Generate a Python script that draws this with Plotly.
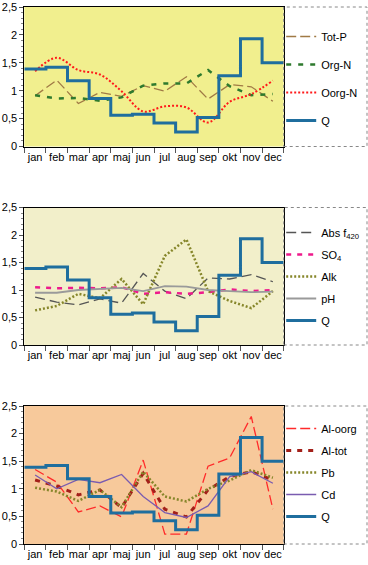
import numpy as np
import plotly.graph_objects as go

months = ["jan", "feb", "mar", "apr", "maj", "jun", "jul", "aug", "sep", "okt", "nov", "dec"]
y_ticks = [0, 0.5, 1, 1.5, 2, 2.5]
y_ticktext = ["0", "0,5", "1", "1,5", "2", "2,5"]

# shared runoff
Q = [1.39, 1.42, 1.18, 0.86, 0.56, 0.58, 0.42, 0.26, 0.52, 1.27, 1.93, 1.50]

# panel 1
tot_p = [0.91, 1.19, 0.77, 0.97, 0.90, 1.09, 0.99, 1.25, 0.85, 1.11, 1.07, 0.81]
org_n = [0.92, 0.86, 0.87, 0.82, 0.88, 1.09, 1.13, 1.13, 1.37, 1.08, 0.92, 0.94]
oorg_n = [1.35, 1.59, 1.37, 1.29, 0.99, 0.63, 0.72, 0.70, 0.43, 0.80, 0.94, 1.18]

# panel 2
abs_f420 = [0.87, 0.78, 0.73, 0.84, 0.76, 1.30, 0.98, 0.84, 1.22, 1.20, 1.28, 1.15]
so4 = [1.05, 1.03, 1.04, 1.03, 1.05, 0.93, 0.96, 0.93, 0.96, 1.01, 0.98, 1.00]
alk = [0.63, 0.71, 0.93, 0.85, 1.20, 0.74, 1.62, 1.92, 0.98, 0.80, 0.67, 0.98]
ph = [0.95, 0.95, 1.00, 1.02, 1.04, 0.98, 1.07, 1.06, 1.00, 0.98, 0.96, 0.97]

# panel 3
al_oorg = [1.35, 1.12, 0.58, 0.69, 0.49, 1.52, 0.18, 0.18, 1.41, 1.56, 2.31, 0.63]
al_tot = [1.16, 1.05, 0.89, 0.98, 0.66, 1.28, 0.63, 0.49, 0.98, 1.22, 1.31, 1.16]
pb = [1.02, 0.95, 0.78, 0.98, 0.67, 1.31, 0.86, 0.77, 1.00, 1.15, 1.34, 1.20]
cd = [1.25, 1.00, 1.17, 1.11, 1.26, 0.86, 0.57, 0.48, 0.69, 1.22, 1.31, 1.10]

W, H = 368, 565
FONT = "Arial, Liberation Sans, Helvetica, sans-serif"
xc = np.arange(len(months)) + 0.5
xstep = np.arange(len(months) + 1)
q_step = Q + [Q[-1]]

# pixel geometry of panels (top, bottom)
panels = [(7, 146.5), (207.5, 345), (406, 544)]
x_left, x_right, box_right = 24.3, 283.7, 367
bgs = ["#f1ef8e", "#f2efca", "#f7c99b"]
legend_tops = [22, 218, 414]
gaps = [9, 3, 3]

fig = go.Figure()

def add(panel, name, y, color, width, dash, shape="linear", x=None):
    idx = "" if panel == 0 else str(panel + 1)
    fig.add_trace(go.Scatter(
        x=xc if x is None else x, y=y, name=name, mode="lines",
        line=dict(color=color, width=width, dash=dash, shape=shape),
        xaxis="x" + idx, yaxis="y" + idx,
        legend="legend" + idx, legendgroup=name + str(panel),
    ))

def add_q(panel):
    add(panel, "Q", q_step, "#1f6e9e", 3, "solid", "hv", x=xstep)

add(0, "Tot-P", tot_p, "#a07a45", 1.3, "10px,4px")
add(0, "Org-N", org_n, "#2e7a2e", 2.5, "5px,7px")
add(0, "Oorg-N", oorg_n, "#ff1a1a", 2, "2px,2px", "spline")
add_q(0)

add(1, "Abs f<sub>420</sub>", abs_f420, "#555555", 1.3, "10px,5px")
add(1, "SO<sub>4</sub>", so4, "#ee1a8c", 2.5, "5px,6px")
add(1, "Alk", alk, "#86862a", 2.5, "2px,2px")
add(1, "pH", ph, "#9a9a9a", 1.8, "solid")
add_q(1)

add(2, "Al-oorg", al_oorg, "#ff2a2a", 1.3, "10px,4px")
add(2, "Al-tot", al_tot, "#a3201a", 3, "5px,6px")
add(2, "Pb", pb, "#86862a", 2.5, "2px,2px")
add(2, "Cd", cd, "#7a5cb0", 1.3, "solid")
add_q(2)

layout = dict(
    width=W, height=H, margin=dict(l=0, r=0, t=0, b=0, autoexpand=False),
    paper_bgcolor="white", plot_bgcolor="rgba(0,0,0,0)",
    font=dict(family=FONT, size=11, color="black"),
    showlegend=True,
)
shapes = []
for i, (top, bot) in enumerate(panels):
    idx = "" if i == 0 else str(i + 1)
    layout["xaxis" + idx] = dict(
        domain=[x_left / W, x_right / W], range=[0, 12], anchor="y" + idx,
        tickmode="array", tickvals=list(xc), ticktext=months, ticks="",
        showgrid=False, zeroline=False, showline=True, linecolor="black",
        linewidth=1, mirror=True, tickfont=dict(size=11), automargin=False,
        minor=dict(tickmode="array", tickvals=list(xstep), ticks="outside",
                   ticklen=5, tickcolor="#555555", showgrid=False),
    )
    layout["yaxis" + idx] = dict(
        domain=[1 - bot / H, 1 - top / H], range=[0, 2.5], anchor="x" + idx,
        tickmode="array", tickvals=y_ticks, ticktext=y_ticktext,
        ticks="outside", ticklen=4, tickcolor="#555555", automargin=False,
        showgrid=False, zeroline=False, showline=True, linecolor="black",
        linewidth=1, mirror=True, tickfont=dict(size=11),
        minor=dict(dtick=0.1, ticks="outside", ticklen=2, tickcolor="#888888",
                   showgrid=False),
    )
    layout["legend" + idx] = dict(
        x=(x_right - 2.5) / W, xanchor="left", y=1 - legend_tops[i] / H,
        yanchor="top", bgcolor="rgba(0,0,0,0)", borderwidth=0,
        font=dict(size=11, family=FONT), tracegroupgap=gaps[i],
        itemwidth=30,
    )
    shapes.append(dict(type="rect", xref="x" + idx + " domain",
                       yref="y" + idx + " domain", x0=0, x1=1, y0=0, y1=1,
                       fillcolor=bgs[i], line=dict(width=0), layer="below"))
    shapes.append(dict(type="rect", xref="paper", yref="paper",
                       x0=x_right / W, x1=box_right / W,
                       y0=1 - bot / H, y1=1 - top / H,
                       line=dict(color="#888888", width=1, dash="dot"),
                       fillcolor="rgba(0,0,0,0)", layer="above"))
layout["shapes"] = shapes
fig.update_layout(**layout)
fig.write_html(
    "out.html",
    config={"displayModeBar": False},
    post_script="document.body.style.margin='0';document.body.style.overflow='hidden';",
)
